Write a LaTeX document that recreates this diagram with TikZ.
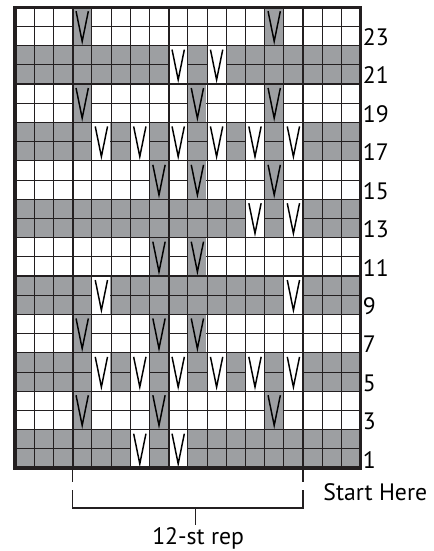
\documentclass[tikz,border=0pt]{standalone}
\usepackage{fontspec}
\setmainfont{PT Sans}
\usetikzlibrary{positioning}

\definecolor{chartgray}{RGB}{157,159,162}
\definecolor{chartline}{RGB}{35,31,32}

\begin{document}
\begin{tikzpicture}[
    x=14.4pt, y=14.4pt,
    font=\fontsize{17.8}{20}\selectfont,
    band/.style={fill=chartgray},
    gridline/.style={draw=chartline, line width=0.6pt},
    heavyline/.style={draw=chartline, line width=1.6pt},
    border/.style={draw=chartline, line width=2.4pt},
    slipmark/.style={draw=black, line width=1.1pt, line join=miter},
    rowlabel/.style={anchor=base west, inner sep=0pt, xshift=1.5pt},
    bracket/.style={draw=chartline, line width=1.3pt, line join=miter}
  ]
    \useasboundingbox (-0.78,-4.32) rectangle (21.82,24.375);

    % colour bands, two rows each
    \foreach \r in {0,4,...,20}
      \fill[band] (0,\r) rectangle (18,\r+2);
    \foreach \x in {1,...,17}
      \draw[gridline] (\x,0) -- (\x,24);
    \foreach \y in {1,...,23}
      \draw[gridline] (0,\y) -- (18,\y);

    % slipped stitches over two rows (column/bottom row/fill)
    \foreach \c/\r/\f in {7/1/white, 9/1/white,
        4/3/chartgray, 8/3/chartgray, 14/3/chartgray,
        5/5/white, 7/5/white, 9/5/white, 11/5/white, 13/5/white, 15/5/white,
        4/7/chartgray, 8/7/chartgray, 10/7/chartgray,
        5/9/white, 15/9/white,
        8/11/chartgray, 10/11/chartgray,
        13/13/white, 15/13/white,
        8/15/chartgray, 10/15/chartgray, 14/15/chartgray,
        5/17/white, 7/17/white, 9/17/white, 11/17/white, 13/17/white, 15/17/white,
        4/19/chartgray, 10/19/chartgray, 14/19/chartgray,
        9/21/white, 11/21/white,
        4/23/chartgray, 14/23/chartgray} {
      \fill[\f] (\c-0.97,\r-0.97) rectangle (\c-0.03,\r+0.97);
      \draw[slipmark] (\c-0.82,\r+0.79) -- (\c-0.5,\r-0.78) -- (\c-0.18,\r+0.79);
    }

    % heavy rules
    \foreach \x in {3,8,15}
      \draw[heavyline] (\x,0) -- (\x,24);
    \foreach \y in {10,20}
      \draw[heavyline] (0,\y) -- (18,\y);
    \draw[border] (0,0) rectangle (18,24);

    % row numbers
    \foreach \n in {1,3,...,23}
      \node[rowlabel] (row\n) at (18,\n-1) {\n};

    \node[anchor=base west, inner sep=0pt] (start) at (16.05,-1.67) {Start Here};

    % repeat bracket
    \coordinate (legLa) at (3,-0.08);
    \coordinate (legLb) at (3,-0.73);
    \coordinate (legLc) at (3,-1.15);
    \coordinate (barL) at (3,-2.09);
    \coordinate (legRa) at (15,-0.08);
    \coordinate (legRb) at (15,-0.73);
    \coordinate (legRc) at (15,-1.15);
    \coordinate (barR) at (15,-2.09);
    \coordinate (tickTop) at (9.4,-2.09);
    \coordinate (tickEnd) at (9.4,-2.97);

    \draw[bracket] (legLa) -- (legLb);
    \draw[bracket] (legRa) -- (legRb);
    \draw[bracket] (legLc) -- (barL) -- (barR) -- (legRc);
    \draw[bracket] (tickTop) -- (tickEnd);

    \node[below=2pt of tickEnd, inner sep=0pt, xshift=2pt] (rep) {12-st rep};
\end{tikzpicture}
\end{document}
